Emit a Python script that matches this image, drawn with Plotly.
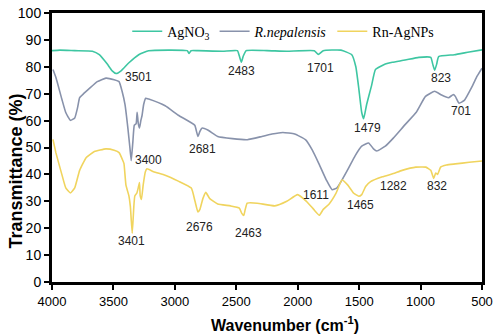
import plotly.graph_objects as go

# ---- data (wavenumber cm-1, transmittance %) ----
wn_agno3 = [4000, 3936, 3815, 3671, 3615, 3550, 3510, 3478, 3438, 3374, 3294, 3213, 3053, 2900, 2884, 2868,
            2812, 2611, 2491, 2475, 2459, 2443, 2419, 2250, 2089, 1865, 1832, 1792, 1648, 1560, 1527, 1503,
            1479, 1463, 1439, 1399, 1367, 1287, 1230, 1126, 1014, 917, 901, 885, 869, 853, 725, 604, 500]
t_agno3 = [86.0, 86.2, 86.0, 85.8, 84.5, 81.0, 78.5, 77.5, 78.5, 81.5, 84.5, 86.0, 86.2, 86.0, 85.0, 86.0,
           86.0, 85.8, 86.0, 84.0, 81.7, 84.0, 86.0, 86.0, 85.8, 86.0, 84.6, 86.0, 86.2, 84.5, 80.0, 72.0,
           63.0, 60.7, 66.0, 73.0, 79.0, 81.0, 81.7, 82.5, 83.5, 83.5, 81.0, 78.7, 81.0, 83.8, 84.5, 85.5, 86.3]

wn_rnep = [3992, 3968, 3920, 3888, 3850, 3815, 3791, 3775, 3743, 3695, 3631, 3561, 3494, 3454, 3430, 3406,
           3382, 3366, 3355, 3342, 3330, 3315, 3307, 3298, 3288, 3277, 3267, 3254, 3237, 3213, 3079, 2972,
           2838, 2824, 2812, 2796, 2780, 2732, 2651, 2531, 2410, 2292, 2210, 2121, 2025, 1937, 1881, 1827,
           1768, 1720, 1680, 1640, 1584, 1533, 1479, 1423, 1383, 1356, 1287, 1222, 1126, 1035, 960, 885,
           829, 773, 733, 717, 687, 644, 580, 540, 500]
t_rnep = [79.0, 76.0, 68.0, 63.0, 60.1, 61.0, 65.0, 68.5, 70.0, 72.0, 74.5, 75.8, 75.2, 74.5, 71.0, 66.0,
          57.0, 50.0, 45.1, 52.0, 58.3, 58.9, 63.1, 59.0, 57.3, 60.0, 61.9, 66.0, 68.3, 68.0, 65.5, 62.0,
          58.3, 56.0, 54.1, 56.0, 57.2, 56.5, 54.1, 53.3, 52.9, 54.1, 55.0, 55.6, 55.0, 52.9, 49.0, 43.9,
          38.0, 34.3, 35.0, 37.9, 42.5, 46.9, 50.5, 51.7, 49.5, 48.7, 50.5, 53.5, 58.5, 63.1, 69.0, 70.9,
          69.5, 68.5, 69.7, 69.0, 66.5, 67.5, 72.7, 76.5, 79.5]

wn_rnag = [3992, 3968, 3920, 3888, 3850, 3815, 3775, 3721, 3655, 3561, 3494, 3454, 3422, 3414, 3398, 3374,
           3362, 3347, 3334, 3326, 3310, 3298, 3288, 3282, 3272, 3258, 3240, 3227, 3173, 3079, 2972, 2866,
           2836, 2812, 2796, 2772, 2748, 2716, 2651, 2547, 2475, 2455, 2439, 2427, 2411, 2330, 2186, 2089,
           2001, 1929, 1870, 1824, 1792, 1744, 1688, 1640, 1592, 1544, 1503, 1479, 1447, 1407, 1311, 1222,
           1150, 1038, 957, 917, 893, 877, 861, 837, 789, 717, 604, 500]
t_rnag = [53.0, 48.0, 40.0, 35.0, 33.1, 35.0, 41.5, 46.3, 48.5, 49.5, 49.0, 48.1, 45.0, 44.0, 36.0, 32.0,
          28.0, 18.1, 28.0, 32.0, 33.0, 35.0, 37.0, 32.0, 30.7, 36.0, 41.0, 42.1, 41.0, 39.7, 37.5, 34.9,
          30.0, 26.0, 27.0, 31.0, 33.3, 31.0, 29.0, 28.3, 27.5, 25.5, 24.7, 27.0, 29.3, 29.3, 28.3, 30.0,
          32.5, 30.0, 27.0, 24.8, 27.0, 29.0, 33.0, 37.9, 36.0, 33.0, 31.9, 32.5, 35.5, 37.3, 39.1, 40.3,
          41.5, 42.7, 42.7, 41.5, 38.5, 40.5, 40.0, 42.7, 43.5, 43.9, 44.5, 45.0]

# peak labels: text, x (wavenumber), y (transmittance)
peak_text = ["3501", "2483", "1701", "1479", "823",
             "3400", "2681", "1611", "701",
             "3401", "2676", "2463", "1465", "1282", "832"]
peak_x = [3293, 2456, 1816, 1431, 837,
          3213, 2772, 1848, 668,
          3350, 2796, 2402, 1487, 1222, 869]
peak_y = [76.3, 78.5, 79.5, 57.2, 75.9,
          45.3, 49.3, 32.4, 63.7,
          15.1, 20.5, 18.3, 28.8, 35.6, 35.6]

x_ticks = [4000, 3500, 3000, 2500, 2000, 1500, 1000, 500]
y_ticks = [0, 10, 20, 30, 40, 50, 60, 70, 80, 90, 100]

series_names = ["AgNO<sub>3</sub>", "<i>R.nepalensis</i>", "Rn-AgNPs"]
series_colors = ["#3ec6a2", "#8892ab", "#f0d45e"]

fig = go.Figure()
for name, wx, ty, col in zip(series_names, [wn_agno3, wn_rnep, wn_rnag],
                             [t_agno3, t_rnep, t_rnag], series_colors):
    fig.add_trace(go.Scatter(x=wx, y=ty, mode="lines", name=name,
                             line=dict(color=col, width=1.6, shape="spline", smoothing=0.4)))

for txt, px, py in zip(peak_text, peak_x, peak_y):
    fig.add_annotation(x=px, y=py, text=txt, showarrow=False,
                       font=dict(family="Liberation Sans", size=12, color="#222"))

axis_common = dict(showline=True, linewidth=3, linecolor="black", mirror=True,
                   ticks="outside", ticklen=5, tickwidth=2, tickcolor="black",
                   showgrid=False, zeroline=False, ticklabeloverflow="allow")

fig.update_layout(
    width=498, height=336,
    margin=dict(l=52, r=10, t=5, b=54),
    paper_bgcolor="white", plot_bgcolor="white",
    showlegend=True,
    legend=dict(orientation="h", x=0.175, y=0.99, xanchor="left", yanchor="top",
                bgcolor="rgba(0,0,0,0)", font=dict(family="Liberation Serif", size=14, color="black"),
                itemwidth=30, tracegroupgap=0),
    xaxis=dict(range=[4000, 500], tickvals=x_ticks,
               tickfont=dict(family="Liberation Sans", size=13, color="black"), **axis_common),
    yaxis=dict(range=[0, 100], tickvals=y_ticks,
               tickfont=dict(family="Liberation Sans", size=14, color="black"), **axis_common),
)

fig.add_annotation(xref="paper", yref="paper", x=0.541, y=-0.11, text="<b>Wavenumber (cm<sup>-1</sup>)</b>",
                   showarrow=False, font=dict(family="Liberation Sans", size=16, color="black"),
                   xanchor="center", yanchor="top")
fig.add_annotation(xref="paper", yref="paper", x=-0.084, y=0.414, text="<b>Transmittance (%)</b>",
                   textangle=-90, showarrow=False,
                   font=dict(family="Liberation Sans", size=18, color="black"),
                   xanchor="center", yanchor="middle")

fig.write_html("out.html", config={"displayModeBar": False},
               post_script="document.body.style.margin='0';")
